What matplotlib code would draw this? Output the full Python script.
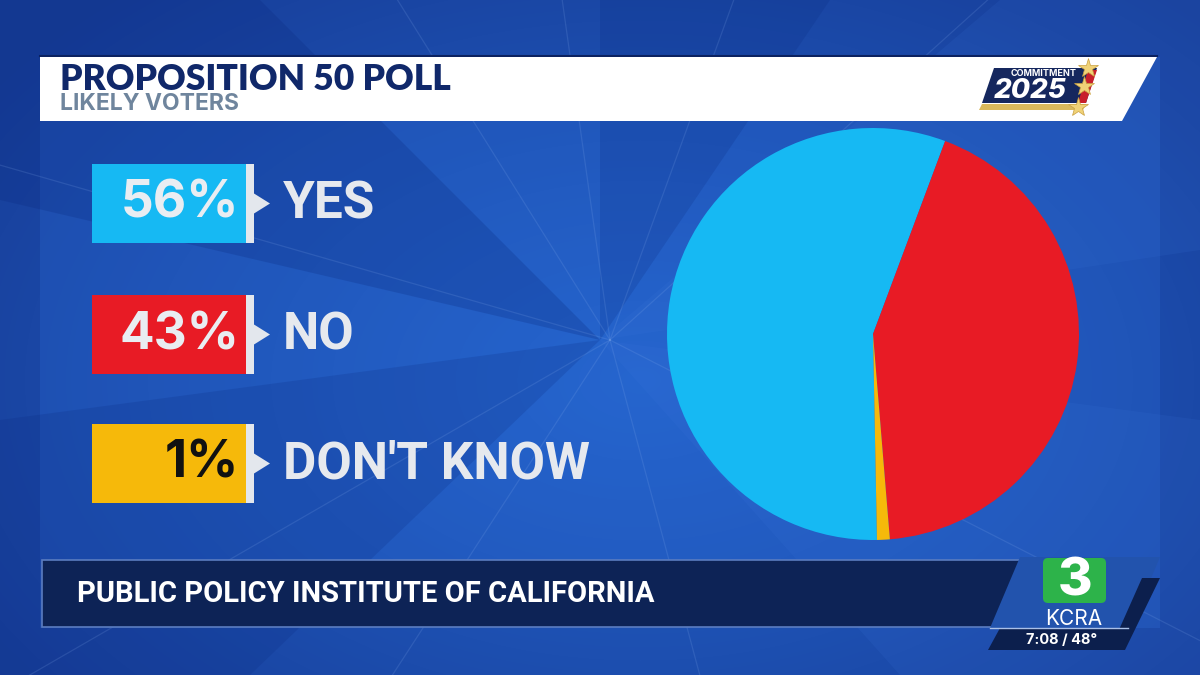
import matplotlib
matplotlib.use("Agg")
import matplotlib.pyplot as plt
import numpy as np
from matplotlib.patches import Polygon, FancyBboxPatch

# Poll data
labels = ["YES", "NO", "DON'T KNOW"]
values = [56, 43, 1]
colors = ["#16b9f3", "#e81b25", "#f6b90a"]
pct_colors = ["#e9edf2", "#e9edf2", "#111111"]

title = "PROPOSITION 50 POLL"
subtitle = "LIKELY VOTERS"
source = "PUBLIC POLICY INSTITUTE OF CALIFORNIA"

fig = plt.figure(figsize=(12, 6.75), dpi=100)
ax = fig.add_axes([0, 0, 1, 1])
ax.set_xlim(0, 1200)
ax.set_ylim(675, 0)
ax.axis("off")

# Fond bleu: degrade radial
yy, xx = np.mgrid[0:675, 0:1200]
d = np.sqrt(((xx - 640) / 800) ** 2 + ((yy - 380) / 520) ** 2)
d = np.clip(d, 0, 1)
c_in = np.array([0x24, 0x64, 0xcc]) / 255
c_out = np.array([0x17, 0x3d, 0x98]) / 255
bg = c_in[None, None, :] * (1 - d[..., None]) + c_out[None, None, :] * d[..., None]
ax.imshow(bg, extent=[0, 1200, 675, 0], aspect="auto", zorder=0)

# Facettes et panneau central plus clair
ax.add_patch(Polygon([(40, 57), (1160, 57), (1160, 628), (40, 628)],
                     closed=True, fc="#2a6ad6", ec="none", alpha=0.3, zorder=0.5))
for pts, col, a in [
    ([(0, 0), (260, 0), (600, 340), (0, 200)], "#0a2a80", 0.25),
    ([(600, 0), (830, 0), (600, 340)], "#0a2a80", 0.2),
    ([(1000, 0), (1200, 0), (1200, 250), (600, 340)], "#3f7ae0", 0.12),
    ([(0, 420), (600, 340), (250, 675), (0, 675)], "#0a2a80", 0.2),
    ([(600, 340), (1200, 420), (1200, 675), (900, 675)], "#3f7ae0", 0.12),
]:
    ax.add_patch(Polygon(pts, closed=True, fc=col, ec="none", alpha=a, zorder=0.6))

# Rayons lumineux fins
cx, cy = 610, 340
for ang in [27, 75, 123, 150, 196, 238, 262, 290, 318]:
    a = np.deg2rad(ang)
    ax.plot([cx, cx + 1500 * np.cos(a)], [cy, cy + 1500 * np.sin(a)],
            color="#8fb4f0", lw=0.9, alpha=0.16, zorder=1)

# Bandeau titre
ax.plot([40, 1157], [56, 56], color="#0c2260", lw=1.5, zorder=3)
ax.add_patch(Polygon([(40, 57), (1157, 57), (1122, 121), (40, 121)],
                     closed=True, fc="white", ec="none", zorder=3))
ax.text(60, 79, title, fontsize=25.5, fontweight="heavy", color="#10286a",
        family="Lato", va="center", ha="left", zorder=4)
ax.text(60, 104, subtitle, fontsize=16.5, color="#6f859d", fontweight="bold",
        family="Inter", va="center", ha="left", zorder=4)

# Logo Commitment 2025 (simplifie)
ax.add_patch(Polygon([(994, 68), (1097, 68), (1086, 103), (982, 103)],
                     closed=True, fc="#15275e", ec="none", zorder=4))
ax.add_patch(Polygon([(982, 104), (1086, 104), (1083, 110), (979, 110)],
                     closed=True, fc="#d9b85c", ec="none", zorder=4))
ax.add_patch(Polygon([(1088, 70), (1097, 70), (1086, 103), (1078, 103)],
                     closed=True, fc="#c8202c", ec="none", zorder=4))
ax.text(1044, 74, "COMMITMENT", fontsize=6.5, fontweight="bold", color="white",
        family="Inter", ha="center", va="center", zorder=5)
ax.text(1030, 91, "2025", fontsize=20, fontweight="heavy", style="italic",
        color="white", family="Inter", ha="center", va="center", zorder=5)
for sx, sy in [(1088, 68), (1084, 86), (1078, 107)]:
    ax.plot(sx, sy, marker="*", ms=15, color="#f0d277", mec="#c9a040", mew=0.5, zorder=6)

# Legende a gauche: boites + pourcentages + libelles
box_tops = [164, 295, 424]
box_h = 79
for lab, val, col, pc, top in zip(labels, values, colors, pct_colors, box_tops):
    ax.add_patch(Polygon([(92, top), (246, top), (246, top + box_h), (92, top + box_h)],
                         closed=True, fc=col, ec="none", zorder=3))
    mid = top + box_h / 2
    ax.add_patch(Polygon([(246, top), (254, top), (254, mid - 10), (270, mid),
                          (254, mid + 10), (254, top + box_h), (246, top + box_h)],
                         closed=True, fc="#e3e7ed", ec="none", zorder=3))
    ax.text(239, mid + 1, f"{val}%", fontsize=37, fontweight="bold", color=pc,
            family="Inter", ha="right", va="center", zorder=4)
    ax.text(283, mid + 1, lab, fontsize=37, fontweight="bold", color="#e6e9ee",
            family="Roboto", ha="left", va="center", zorder=4)

# Camembert
pcx, pcy, r = 873, 334, 206
pax = fig.add_axes([(pcx - r) / 1200, (675 - pcy - r) / 675, 2 * r / 1200, 2 * r / 675])
pax.pie(values, colors=colors, startangle=271.1, counterclock=False,
        wedgeprops=dict(linewidth=0), frame=True)
pax.set_xlim(-1, 1)
pax.set_ylim(-1, 1)
pax.axis("off")

# Bandeau source en bas
ax.add_patch(Polygon([(42, 560), (1062, 560), (1040, 627), (42, 627)],
                     closed=True, fc="#0d2356", ec="#5a7cc0", lw=1.2, zorder=3))
ax.text(77, 594, source, fontsize=21, fontweight="bold", color="white",
        family="Roboto", ha="left", va="center", zorder=4)

# Logo KCRA
ax.add_patch(Polygon([(1020, 557), (1160, 557), (1130, 628), (990, 628)],
                     closed=True, fc="#2253ad", ec="none", zorder=4))
ax.add_patch(Polygon([(1142, 578), (1160, 578), (1125, 650), (1110, 650)],
                     closed=True, fc="#0c1f4d", ec="none", zorder=4))
ax.add_patch(Polygon([(1000, 628), (1132, 628), (1120, 650), (988, 650)],
                     closed=True, fc="#0c1f4d", ec="none", zorder=4))
ax.add_patch(FancyBboxPatch((1043, 558), 63, 45, boxstyle="round,pad=0,rounding_size=5",
                            fc="#2db34a", ec="none", zorder=5))
ax.text(1075, 582, "3", fontsize=38, fontweight="heavy", color="white",
        family="Inter", ha="center", va="center", zorder=6)
ax.text(1074, 619, "KCRA", fontsize=15, color="white", family="Inter",
        ha="center", va="center", zorder=6)
ax.plot([990, 1128], [628, 628], color="#aac0e8", lw=1, zorder=6)
ax.text(1062, 640, "7:08 / 48°", fontsize=10.5, fontweight="bold", color="white",
        family="Inter", ha="center", va="center", zorder=6)

fig.savefig("out.png", dpi=100)
